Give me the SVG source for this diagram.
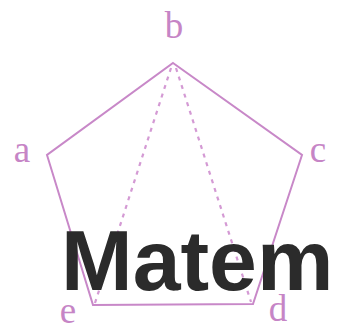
<svg xmlns="http://www.w3.org/2000/svg" width="338" height="325" viewBox="0 0 338 325">
<style>
.edge{fill:none;stroke:#c888c8;stroke-width:2}
.dash{fill:none;stroke:#d49ad4;stroke-width:2.2;stroke-dasharray:4 5}
.lbl{font-family:"Liberation Serif",serif;font-size:37px;fill:#c685c6;text-anchor:middle}
.big{font-family:"Liberation Sans",Arial,sans-serif;font-weight:bold;font-size:86px;fill:#2b2b2b}
</style>
<rect width="338" height="325" fill="#fff"/>
<g id="connectors">
<polygon class="edge" points="173,63 302,155 253,304 93,305 47,155"/>
<line class="dash" x1="171" y1="68" x2="95" y2="303"/>
<line class="dash" x1="176" y1="68" x2="251" y2="302"/>
</g>
<g id="node-b"><text class="lbl" x="174" y="38">b</text></g>
<g id="node-a"><text class="lbl" x="22" y="162">a</text></g>
<g id="node-c"><text class="lbl" x="318" y="162">c</text></g>
<g id="node-e"><text class="lbl" x="68" y="323">e</text></g>
<g id="node-d"><text class="lbl" x="278" y="321">d</text></g>
<g id="title"><text class="big" x="61" y="290">Matem</text></g>
</svg>
